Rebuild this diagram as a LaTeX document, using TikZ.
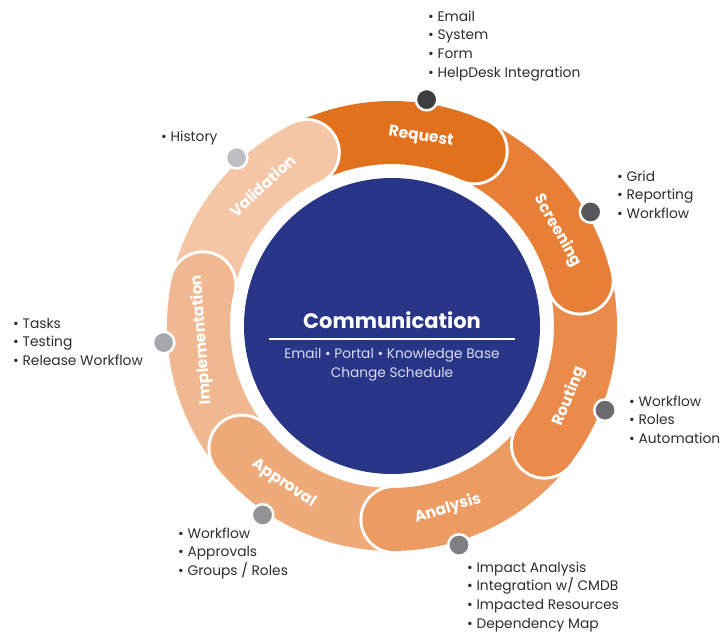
\documentclass[tikz,border=0pt]{standalone}
\usepackage{fontspec}
\setmainfont{Poppins}
\usetikzlibrary{calc}
\definecolor{c1}{HTML}{E2711E}
\definecolor{c2}{HTML}{E77F36}
\definecolor{c3}{HTML}{EA8B4C}
\definecolor{c4}{HTML}{EC9B62}
\definecolor{c5}{HTML}{EEAA78}
\definecolor{c6}{HTML}{F0B890}
\definecolor{c7}{HTML}{F4C6A6}
\definecolor{d1}{HTML}{3E3E40}
\definecolor{d2}{HTML}{575759}
\definecolor{d3}{HTML}{6B6B6F}
\definecolor{d4}{HTML}{808084}
\definecolor{d5}{HTML}{939397}
\definecolor{d6}{HTML}{A7A8AC}
\definecolor{d7}{HTML}{BEBFC3}
\definecolor{navy}{HTML}{293688}
\definecolor{subtxt}{HTML}{D8DBF0}
\definecolor{listtxt}{HTML}{2E2E2E}
\newcommand\ringseg[3]{%
  \fill[white] ($(C)+(#2:193.5)$) circle[radius=34.5pt];
  \draw[#3, line width=63pt] ($(C)+(#1:193.5)$) arc[start angle=#1, end angle=#2, radius=193.5pt];
  \fill[#3] ($(C)+(#2:193.5)$) circle[radius=31.5pt];
}
\newcommand\blist[4]{%
  \foreach \t [count=\i] in {#4}
    \node[listtext] (#1-\i) at (#2, {-(#3) - 5 - 18.7*(\i-1)}) {• \t};
}
\tikzset{
  seglabel/.style={text=white, font=\bfseries\fontsize{15.5}{18}\selectfont, inner sep=0pt},
  listtext/.style={text=listtxt, font=\fontsize{13.8}{16}\selectfont, anchor=base west, inner sep=0pt},
  dotmark/.style={draw=white, line width=2.5pt},
}
\begin{document}
\begin{tikzpicture}[x=1pt,y=1pt]
\useasboundingbox (0,0) rectangle (724,-632);
\fill[white] (0,0) rectangle (724,-632);
\coordinate (C) at (392,-326);
% ring segments
\ringseg{116.3}{64.87}{c1}
\ringseg{-192.28}{-243.71}{c7}
\ringseg{-140.85}{-192.28}{c6}
\ringseg{-89.42}{-140.85}{c5}
\ringseg{-37.99}{-89.42}{c4}
\ringseg{13.44}{-37.99}{c3}
\ringseg{64.87}{13.44}{c2}
\ringseg{85}{64.87}{c1}
% centre
\fill[navy] (C) circle[radius=148pt];
\node[text=white, font=\bfseries\fontsize{21}{25}\selectfont, anchor=base, inner sep=0pt] (comm) at (392,-328.5) {Communication};
\coordinate (ul) at (269,-339.3);
\coordinate (ur) at (515,-339.3);
\draw[white, line width=2pt] (ul) -- (ur);
\node[text=subtxt, font=\fontsize{13.7}{16}\selectfont, anchor=base, inner sep=0pt] (sub1) at (392,-358.5) {Email • Portal • Knowledge Base};
\node[text=subtxt, font=\fontsize{13.7}{16}\selectfont, anchor=base, inner sep=0pt] (sub2) at (392,-377.5) {Change Schedule};
% labels
\node[seglabel, rotate=-8.7] (lreq) at ($(C)+(81.3:191)$) {Request};
\node[seglabel, rotate=-60.13] (lscr) at ($(C)+(29.87:191)$) {Screening};
\node[seglabel, rotate=68.44] (lrou) at ($(C)+(-21.56:191)$) {Routing};
\node[seglabel, rotate=17.01] (lana) at ($(C)+(-72.99:191)$) {Analysis};
\node[seglabel, rotate=-34.42] (lapp) at ($(C)+(-124.42:191)$) {Approval};
\node[seglabel, rotate=94.15] (limp) at ($(C)+(184.15:191)$) {Implementation};
\node[seglabel, rotate=42.72] (lval) at ($(C)+(132.72:191)$) {Validation};
% dots
\fill[d1, dotmark] ($(C)+(81.3:229)$) circle[radius=10.75pt];
\fill[d2, dotmark] ($(C)+(29.87:229)$) circle[radius=10.75pt];
\fill[d3, dotmark] ($(C)+(-21.56:229)$) circle[radius=10.75pt];
\fill[d4, dotmark] ($(C)+(-72.99:229)$) circle[radius=10.75pt];
\fill[d5, dotmark] ($(C)+(-124.42:229)$) circle[radius=10.75pt];
\fill[d6, dotmark] ($(C)+(184.15:229)$) circle[radius=10.75pt];
\fill[d7, dotmark] ($(C)+(132.72:229)$) circle[radius=10.75pt];
% lists
\blist{req}{428}{16}{Email,System,Form,HelpDesk Integration}
\blist{scr}{617}{176}{Grid,Reporting,Workflow}
\blist{rou}{629}{401}{Workflow,Roles,Automation}
\blist{ana}{467}{567}{Impact Analysis,Integration w/ CMDB,Impacted Resources,Dependency Map}
\blist{app}{178}{533}{Workflow,Approvals,Groups / Roles}
\blist{imp}{13}{323}{Tasks,Testing,Release Workflow}
\blist{val}{161}{136}{History}
\end{tikzpicture}
\end{document}
